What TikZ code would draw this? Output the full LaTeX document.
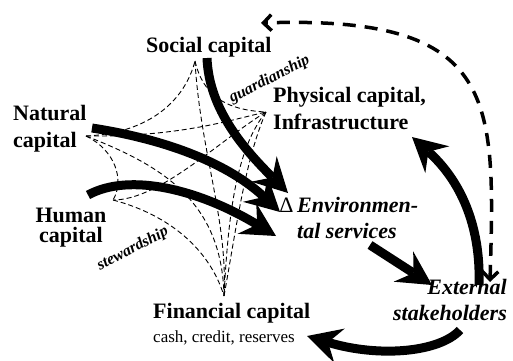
\documentclass[tikz,border=0pt]{standalone}
\usepackage{fontspec}
\setmainfont{Liberation Serif}
\usetikzlibrary{arrows.meta}

\tikzset{
  netz/.style={line width=0.9pt, dash pattern=on 5pt off 3pt},
  pfeil/.style={line width=9pt, -{Stealth[length=34pt,width=36pt,inset=12pt,line width=0pt]}},
  rueck/.style={line width=3.5pt, dash pattern=on 13pt off 9pt,
    {Straight Barb[length=8pt,width=16pt,line width=3.5pt]}-{Straight Barb[length=8pt,width=16pt,line width=3.5pt]}},
  gross/.style={inner sep=0pt, font=\fontsize{22}{27}\selectfont\bfseries},
  kursiv/.style={inner sep=0pt, font=\fontsize{22}{26}\selectfont\bfseries\itshape},
  klein/.style={inner sep=0pt, font=\fontsize{16}{18}\selectfont\bfseries\itshape}
}

\begin{document}
\begin{tikzpicture}[x=1pt,y=-1pt]
\useasboundingbox (0,0) rectangle (513,360);
% Eckpunkte des Netzes
\coordinate (S) at (195,61);
\coordinate (N) at (86,136);
\coordinate (P) at (266,112);
\coordinate (H) at (113,200);
\coordinate (F) at (224,296);
% duenne Verbindungen zwischen den Kapitalarten
\draw[netz] (N) .. controls (150,133) and (185,100) .. (S);
\draw[netz] (N) .. controls (180,137) and (230,120) .. (P);
\draw[netz] (S) .. controls (203,95) and (225,110) .. (P);
\draw[netz] (N) .. controls (115,150) and (125,180) .. (H);
\draw[netz] (N) .. controls (160,165) and (222,200) .. (F);
\draw[netz] (H) .. controls (170,215) and (210,250) .. (F);
\draw[netz] (S) .. controls (200,150) and (228,220) .. (F);
\draw[netz] (P) .. controls (220,140) and (160,200) .. (H);
\draw[netz] (P) .. controls (235,150) and (228,220) .. (F);
\draw[netz] (P) .. controls (245,160) and (236,230) .. (F);

% Beschriftungen (Anker an der letzten Grundlinie)
\node[gross, anchor=base west] (sozial) at (146,52) {Social capital};
\node[gross, anchor=base west, align=left] (natur) at (13,147) {Natural\\capital};
\node[gross, anchor=base west, align=left] (sach) at (273,129) {Physical capital,\\Infrastructure};
\node[inner sep=0pt, font=\fontsize{22}{20}\selectfont\bfseries, anchor=base, align=center] (human) at (71,242) {Human\\capital};
\node[kursiv, anchor=base west, align=left] (umwelt) at (297,238) {\llap{\normalfont Δ\,}Environmen-\\tal services};
\node[kursiv, anchor=base east, align=right] (extern) at (507,320) {External\\stakeholders};
\node[gross, anchor=base west] (finanz) at (153,318) {Financial capital};
\node[inner sep=0pt, font=\fontsize{17}{20}\selectfont, anchor=base west] (mittel) at (153,342) {cash, credit, reserves};
\node[klein, anchor=base west, rotate=27] (pflege) at (232,103) {guardianship};
\node[klein, anchor=base west, rotate=28] (verwalt) at (100,271) {stewardship};

% dicke Pfeile
\coordinate (sA) at (207,58);   \coordinate (sE) at (288,193);
\coordinate (nA) at (92,128);   \coordinate (nE) at (280,212);
\coordinate (hA) at (88,195);   \coordinate (hE) at (276,236);
\coordinate (uA) at (370,245);  \coordinate (uE) at (432,285);
\coordinate (eA) at (479,285);  \coordinate (eE) at (412,137);
\coordinate (fA) at (460,330);  \coordinate (fE) at (307,336);
\draw[pfeil] (sA) .. controls (209,110) and (245,150) .. (sE);
\draw[pfeil] (nA) .. controls (170,140) and (230,165) .. (nE);
\draw[pfeil] (hA) .. controls (130,172) and (200,190) .. (hE);
\draw[pfeil] (uA) -- (uE);
\draw[pfeil] (eA) .. controls (481,225) and (460,180) .. (eE);
\draw[pfeil] (fA) .. controls (440,352) and (380,358) .. (fE);

% gestrichelter Rueckpfeil
\coordinate (dA) at (490,282);
\coordinate (dE) at (261,23);
\draw[rueck] (dA) .. controls (495,100) and (500,15) .. (dE);
\end{tikzpicture}
\end{document}
